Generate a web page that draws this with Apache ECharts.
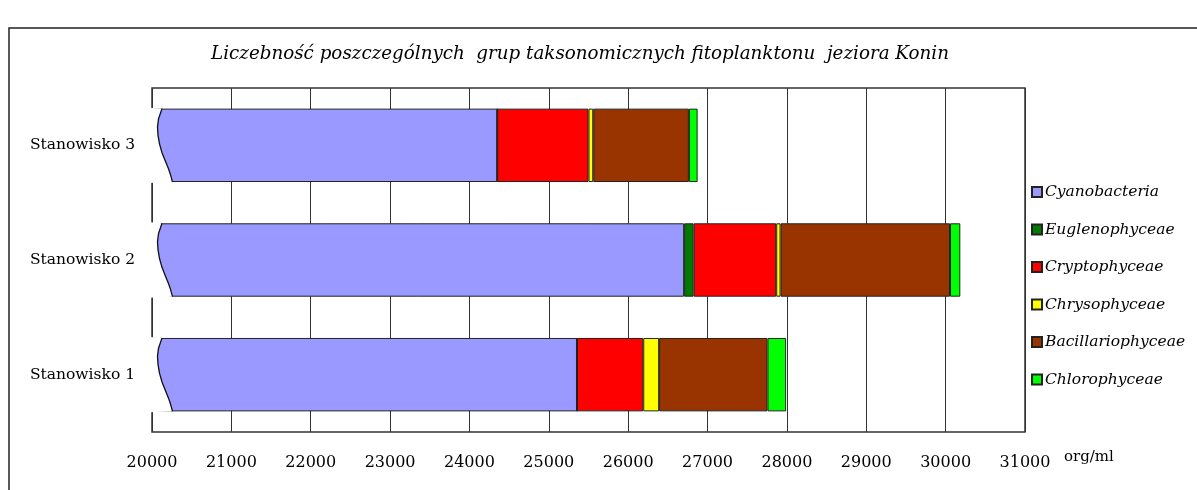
<!DOCTYPE html>
<html>
<head>
<meta charset="utf-8">
<script src="https://cdn.jsdelivr.net/npm/echarts@6/dist/echarts.min.js"></script>
<style>
  html, body { margin: 0; padding: 0; background: #fff; }
  #chart { width: 1197px; height: 490px; }
</style>
</head>
<body>
<div id="chart"></div>
<script>
// Stations (bottom to top) and phytoplankton counts per taxonomic group, org/ml
const stations = ['Stanowisko 1', 'Stanowisko 2', 'Stanowisko 3'];
const groups = ['Cyanobacteria', 'Euglenophyceae', 'Cryptophyceae', 'Chrysophyceae', 'Bacillariophyceae', 'Chlorophyceae'];
const cyanobacteria     = [25355, 26705, 24350];
const euglenophyceae    = [0, 120, 0];
const cryptophyceae     = [835, 1040, 1150];
const chrysophyceae     = [200, 55, 60];
const bacillariophyceae = [1365, 2135, 1205];
const chlorophyceae     = [235, 130, 110];
const xTicks = { min: 20000, max: 31000, step: 1000 };

const groupValues = [cyanobacteria, euglenophyceae, cryptophyceae, chrysophyceae, bacillariophyceae, chlorophyceae];
const groupColors = ['#9999FF', '#007A00', '#FF0000', '#FFFF00', '#993300', '#00FF00'];

const serif = '"DejaVu Serif", "Liberation Serif", serif';
const BAR_SHARE = 0.64;

const chart = echarts.init(document.getElementById('chart'), null, { renderer: 'canvas' });

const barSeries = groups.map((g, i) => ({
  name: g,
  type: 'bar',
  stack: 'total',
  barWidth: (BAR_SHARE * 100) + '%',
  data: groupValues[i],
  itemStyle: { color: groupColors[i], borderColor: '#222', borderWidth: 1 },
  emphasis: { disabled: true },
  z: 2
}));

// Broken-axis mark: white cut with a wavy edge at the start of every bar
const breakSeries = {
  type: 'custom',
  silent: true,
  clip: false,
  z: 5,
  encode: { x: 0, y: 1 },
  data: stations.map((s, i) => [xTicks.min, i]),
  renderItem: function (params, api) {
    const p = api.coord([api.value(0), api.value(1)]);
    const h = api.size([0, 1])[1] * BAR_SHARE;
    const top = p[1] - h / 2;
    const x0 = p[0];
    // offset of the wave from the axis start at fractions of bar height
    const prof = [[0, 10], [0.06, 8.5], [0.14, 6.5], [0.25, 5.5], [0.36, 6], [0.48, 7.5],
                  [0.6, 10], [0.72, 13.5], [0.82, 16.5], [0.9, 18.5], [1, 20.5]];
    const wave = prof.map(q => [x0 + q[1], top + q[0] * h]);
    const cover = [[x0 - 2, top - 1]].concat(wave).concat([[x0 - 2, top + h + 1]]);
    return {
      type: 'group',
      children: [
        { type: 'polygon', shape: { points: cover }, style: { fill: '#fff', stroke: null } },
        { type: 'polyline', shape: { points: wave }, style: { stroke: '#111', lineWidth: 1.3, fill: null } }
      ]
    };
  }
};

chart.setOption({
  animation: false,
  backgroundColor: '#fff',
  title: {
    text: 'Liczebność poszczególnych  grup taksonomicznych fitoplanktonu  jeziora Konin',
    left: 575,
    textAlign: 'center',
    top: 40,
    textStyle: { fontFamily: serif, fontStyle: 'italic', fontWeight: 'normal', fontSize: 18.3, color: '#000' }
  },
  graphic: [
    { type: 'rect', shape: { x: 9, y: 28, width: 1230, height: 520 }, style: { fill: null, stroke: '#222', lineWidth: 1.5 }, silent: true, z: -1 }
  ],
  legend: {
    data: groups,
    orient: 'vertical',
    left: 1026,
    top: 177,
    icon: 'rect',
    itemWidth: 10,
    itemHeight: 10,
    itemGap: 17.5,
    selectedMode: false,
    textStyle: { fontFamily: serif, fontStyle: 'italic', fontSize: 15.5, color: '#000', lineHeight: 20, padding: [0, 0, 0, -2] }
  },
  grid: {
    left: 152, right: 172, top: 88, bottom: 58,
    show: true,
    borderColor: '#333',
    borderWidth: 1.5,
    backgroundColor: '#fff'
  },
  xAxis: {
    type: 'value',
    min: xTicks.min,
    max: xTicks.max,
    interval: xTicks.step,
    axisLine: { show: false },
    axisTick: { show: false },
    splitLine: { show: true, lineStyle: { color: '#333', width: 1 } },
    axisLabel: { margin: 23, fontFamily: serif, fontSize: 16, color: '#000', formatter: v => String(v) },
    name: 'org/ml',
    nameLocation: 'end',
    nameGap: 39,
    nameTextStyle: { fontFamily: serif, fontSize: 15, color: '#000', verticalAlign: 'top', padding: [18, 0, 0, 0] }
  },
  yAxis: {
    type: 'category',
    data: stations,
    axisLine: { show: false },
    axisTick: { show: false },
    splitLine: { show: false },
    axisLabel: { margin: 17, fontFamily: serif, fontSize: 15.5, color: '#000' }
  },
  series: barSeries.concat([breakSeries])
});
</script>
</body>
</html>
